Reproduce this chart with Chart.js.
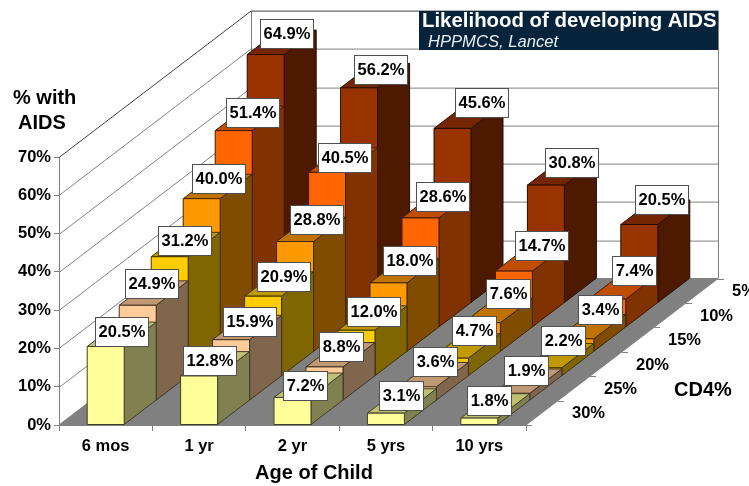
<!doctype html>
<html lang="en">

  <head>
    <meta charset="utf-8">
    <title>Likelihood of developing AIDS</title>
    <style>
      html, body { margin: 0; padding: 0; background: #fff; overflow: hidden; }
      canvas { display: block; }
    </style>
  </head>

  <body>
    <canvas id="myChart" width="749" height="486"></canvas>

    <script src="https://cdn.jsdelivr.net/npm/chart.js"></script>
    <script>
      const ageLabels = ['6 mos', '1 yr', '2 yr', '5 yrs', '10 yrs']
      // front row first, chart.js paints the first dataset last
      const cd4Labels = ['30%', '25%', '20%', '15%', '10%', '5%']
      const cd4_30 = [20.5, 12.8, 7.2, 3.1, 1.8]
      const cd4_25 = [24.9, 15.9, 8.8, 3.6, 1.9]
      const cd4_20 = [31.2, 20.9, 12.0, 4.7, 2.2]
      const cd4_15 = [40.0, 28.8, 18.0, 7.6, 3.4]
      const cd4_10 = [51.4, 40.5, 28.6, 14.7, 7.4]
      const cd4_5 = [64.9, 56.2, 45.6, 30.8, 20.5]
      const seriesValues = [cd4_30, cd4_25, cd4_20, cd4_15, cd4_10, cd4_5]

      // front, side and top face of each row
      const frontColors = ['#ffff99', '#ffcc99', '#ffcc00', '#ff9900', '#ff6600', '#993300']
      const sideColors = ['#808050', '#80664d', '#806600', '#804d00', '#803300', '#4d1a00']
      const topColors = ['#c0c073', '#c09973', '#c09900', '#c07300', '#c04d00', '#732600']
      const edgeColors = ['#404028', '#403326', '#403300', '#402600', '#401a00', '#260d00']

      // one row of depth on the page
      const ROW_X = 32
      const ROW_Y = 24.4
      const ROWS = cd4Labels.length
      const FONT = '"Liberation Sans", Arial, sans-serif'

      // hand placed value boxes, offset from the middle of each bar's top face [row][age]
      const boxNudgeX = [
        [0, -6, -4, -1, -6],
        [-2, 2, 0, 1, -1],
        [-1, 4, 1, 8, 4],
        [1, 5.5, 5, 10, 9],
        [3, 1, 6, 12, 11],
        [5, 5, 13, 10, 6]
      ]
      const boxNudgeY = [
        [-3, -3, 0.5, -5, -5],
        [-10, -6.5, -8, -13, -11],
        [-4, -7.5, -7, -16, -15],
        [-8, -9.5, -10, -17, -17],
        [-6, -2.5, -9, -13, -16],
        [-9, -6.5, -13.5, -10, -13]
      ]

      function line(ctx, x1, y1, x2, y2, color) {
        ctx.strokeStyle = color
        ctx.lineWidth = 1
        ctx.beginPath()
        ctx.moveTo(x1, y1)
        ctx.lineTo(x2, y2)
        ctx.stroke()
      }

      function poly(ctx, pts, fill, edge) {
        ctx.beginPath()
        pts.forEach((p, i) => i ? ctx.lineTo(p[0], p[1]) : ctx.moveTo(p[0], p[1]))
        ctx.closePath()
        ctx.fillStyle = fill
        ctx.fill()
        if (edge) {
          ctx.strokeStyle = edge
          ctx.lineWidth = 1
          ctx.stroke()
        }
      }

      function text(ctx, str, x, y, font, color, align) {
        ctx.font = font
        ctx.fillStyle = color || '#000'
        ctx.textAlign = align || 'left'
        ctx.textBaseline = 'middle'
        ctx.fillText(str, x, y)
      }

      const box3d = {
        id: 'box3d',
        // walls, floor and the free standing captions
        beforeDatasetsDraw(chart) {
          const ctx = chart.ctx
          const area = chart.chartArea
          const yScale = chart.scales.y
          const dx = ROW_X * ROWS
          const dy = ROW_Y * ROWS
          const gray = '#808080'
          ctx.save()
          yScale.ticks.forEach(t => {
            const y = Math.round(yScale.getPixelForValue(t.value)) + 0.5
            const color = t.value === 70 ? '#404040' : gray
            line(ctx, area.left, y, area.left + dx, y - dy, color)
            line(ctx, area.left + dx, y - dy, area.right + dx, y - dy, color)
          })
          line(ctx, area.left + dx + 0.5, area.top - dy, area.left + dx + 0.5, area.bottom - dy, gray)
          line(ctx, area.right + dx + 0.5, area.top - dy, area.right + dx + 0.5, area.bottom - dy, gray)
          poly(ctx, [[area.left, area.bottom], [area.right, area.bottom],
            [area.right + dx, area.bottom - dy], [area.left + dx, area.bottom - dy]], gray, gray)

          // depth axis
          for (let k = 0; k <= ROWS; k++) {
            const y = Math.round(area.bottom - k * ROW_Y) + 0.5
            line(ctx, area.right + k * ROW_X, y, area.right + k * ROW_X + 6, y, gray)
          }
          cd4Labels.forEach((label, r) => {
            text(ctx, label, area.right + (r + 0.5) * ROW_X + 30, area.bottom - (r + 0.5) * ROW_Y + 1, 'bold 16.5px ' + FONT)
          })
          text(ctx, 'CD4%', 674, 390, 'bold 20px ' + FONT)
          text(ctx, '% with', 13, 98, 'bold 20px ' + FONT)
          text(ctx, 'AIDS', 18, 123, 'bold 20px ' + FONT)
          text(ctx, 'Age of Child', 314, 473, 'bold 20px ' + FONT, '#000', 'center')

          // heading block
          ctx.fillStyle = '#05243c'
          ctx.fillRect(419, 11, 299, 39)
          text(ctx, 'Likelihood of developing AIDS', 422, 21, 'bold 20.4px ' + FONT, '#fff')
          text(ctx, 'HPPMCS, Lancet', 428, 42, 'italic 16.6px ' + FONT, '#e8eef2')
          ctx.restore()
        },
        // each row is drawn whole, pushed back by its depth
        beforeDatasetDraw(chart, args) {
          const ctx = chart.ctx
          const r = args.index
          ctx.save()
          ctx.translate(r * ROW_X, -r * ROW_Y)
          args.meta.data.forEach(el => {
            const left = el.x - el.width / 2
            const right = el.x + el.width / 2
            poly(ctx, [[right, el.y], [right + ROW_X, el.y - ROW_Y], [right + ROW_X, el.base - ROW_Y], [right, el.base]],
              sideColors[r], edgeColors[r])
            poly(ctx, [[left, el.y], [left + ROW_X, el.y - ROW_Y], [right + ROW_X, el.y - ROW_Y], [right, el.y]],
              topColors[r], edgeColors[r])
            poly(ctx, [[left, el.y], [right, el.y], [right, el.base], [left, el.base]],
              frontColors[r], edgeColors[r])
          })
          ctx.restore()
          return false
        },
        // value boxes sit above all the bars
        afterDatasetsDraw(chart) {
          const ctx = chart.ctx
          ctx.save()
          ctx.font = 'bold 16.5px ' + FONT
          for (let r = ROWS - 1; r >= 0; r--) {
            chart.getDatasetMeta(r).data.forEach((el, i) => {
              const label = seriesValues[r][i].toFixed(1) + '%'
              const cx = el.x + ROW_X / 2 + r * ROW_X + boxNudgeX[r][i]
              const cy = el.y - ROW_Y / 2 - r * ROW_Y + boxNudgeY[r][i]
              const w = Math.round(ctx.measureText(label).width + 6.5)
              const x = Math.round(cx - w / 2) + 0.5
              const y = Math.round(cy - 14.5) + 0.5
              ctx.fillStyle = '#fff'
              ctx.strokeStyle = '#505050'
              ctx.lineWidth = 1
              ctx.fillRect(x, y, w, 29)
              ctx.strokeRect(x, y, w, 29)
              text(ctx, label, x + w / 2, y + 15, 'bold 16.5px ' + FONT, '#000', 'center')
            })
          }
          ctx.restore()
        }
      }

      const datasets = seriesValues.map((values, r) => ({
        label: cd4Labels[r],
        data: values,
        backgroundColor: frontColors[r],
        grouped: false,
        categoryPercentage: 1,
        barPercentage: 0.396
      }))

      const myChart = new Chart(document.getElementById('myChart'), {
        type: 'bar',
        data: { labels: ageLabels, datasets },
        plugins: [box3d],
        options: {
          responsive: false,
          animation: false,
          layout: { padding: { top: 157, right: 223, left: 0, bottom: 0 } },
          plugins: { legend: { display: false }, tooltip: { enabled: false } },
          scales: {
            x: {
              afterFit: s => { s.height = 61 },
              grid: { drawOnChartArea: false, color: '#808080', tickLength: 6 },
              border: { color: '#808080' },
              ticks: {
                color: '#000',
                font: { family: FONT, size: 16.5, weight: 'bold' },
                maxRotation: 0,
                autoSkip: false,
                padding: 6
              }
            },
            y: {
              min: 0,
              max: 70,
              afterFit: s => { s.width = 59 },
              grid: { drawOnChartArea: false, color: '#808080', tickLength: 5 },
              border: { color: '#808080' },
              ticks: {
                stepSize: 10,
                color: '#000',
                font: { family: FONT, size: 16.5, weight: 'bold' },
                padding: 3,
                callback: v => v + '%'
              }
            }
          }
        }
      })
    </script>
  </body>

</html>
